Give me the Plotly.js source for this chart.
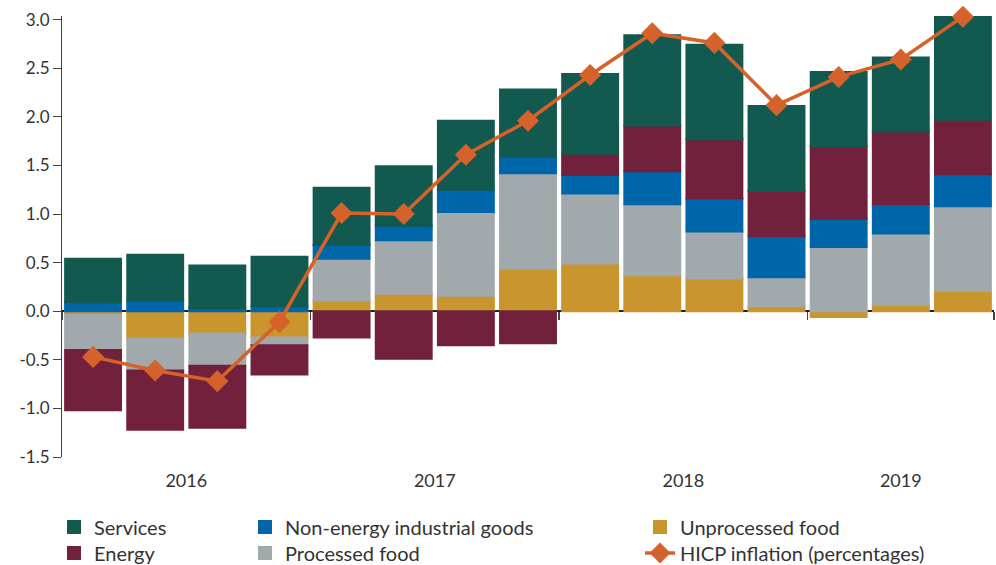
<!DOCTYPE html>
<html>
<head>
<meta charset="utf-8">
<script src="https://cdn.plot.ly/plotly-3.0.1.min.js"></script>
<style>html,body{margin:0;padding:0;background:#fff;}#chart{width:996px;height:565px;}</style>
</head>
<body>
<div id="chart"></div>
<script>
// 15 quarters: 2016 Q1 ... 2019 Q3
const periods = [0,1,2,3,4,5,6,7,8,9,10,11,12,13,14];
const yearLabels = ['2016','2017','2018','2019'];
const yearCentres = [1.5, 5.5, 9.5, 13];
const yearBounds = [-0.5, 3.5, 7.5, 11.5, 14.5];

const unprocessedFood = [-0.04,-0.28,-0.23,-0.27, 0.11,0.18,0.16,0.44, 0.49,0.37,0.34,0.05, -0.06,0.07,0.21];
const processedFood   = [-0.36,-0.33,-0.33,-0.08, 0.43,0.55,0.86,0.98, 0.72,0.73,0.48,0.30, 0.66,0.73,0.87];
const neig            = [ 0.09, 0.11, 0.03, 0.05, 0.14,0.15,0.23,0.17, 0.19,0.34,0.34,0.42, 0.29,0.30,0.33];
const energy          = [-0.62,-0.61,-0.64,-0.30, -0.27,-0.49,-0.35,-0.33, 0.22,0.47,0.61,0.47, 0.75,0.75,0.56];
const services        = [ 0.45, 0.47, 0.44, 0.51, 0.59,0.61,0.71,0.69, 0.82,0.93,0.97,0.87, 0.76,0.76,1.06];
const hicp            = [-0.47,-0.61,-0.72,-0.11, 1.01,1.00,1.61,1.96, 2.43,2.86,2.76,2.12, 2.41,2.59,3.03];

const yTicks = [-1.5,-1.0,-0.5,0,0.5,1.0,1.5,2.0,2.5,3.0];
const yTickText = ['-1.5','-1.0','-0.5','0.0','0.5','1.0','1.5','2.0','2.5','3.0'];

const FONT = 'Lato, "Open Sans", sans-serif';
const C = {services:'#12594f', neig:'#0066aa', unproc:'#c9952e', energy:'#72213d', proc:'#a2a9ac', hicp:'#d4622a'};

function bar(name, y, color, legend){
  return {type:'bar', x:periods, y:y, name:name, marker:{color:color, line:{width:2, color:color}},
          legend:legend, hoverinfo:'y+name'};
}
const traces = [
  bar('Unprocessed food', unprocessedFood, C.unproc, 'legend3'),
  bar('Processed food', processedFood, C.proc, 'legend5'),
  bar('Non-energy industrial goods', neig, C.neig, 'legend2'),
  bar('Energy', energy, C.energy, 'legend4'),
  bar('Services', services, C.services, 'legend'),
  {type:'scatter', mode:'lines+markers', x:periods, y:hicp, name:'HICP inflation (percentages)',
   line:{color:C.hicp, width:3.5}, marker:{symbol:'diamond', size:17, color:C.hicp},
   legend:'legend6', cliponaxis:false},
  {type:'scatter', x:[], y:[], xaxis:'x2', showlegend:false, hoverinfo:'skip'}
];

const yMin = -1.5, yMax = 3.037;
const legFont = {family:FONT, size:20, color:'#333'};
function leg(px, py){
  return {xref:'container', yref:'container', x:px/996, y:1 - py/565, xanchor:'left', yanchor:'middle',
          font:legFont, bgcolor:'rgba(0,0,0,0)', borderwidth:0};
}
const row1 = 527, row2 = 553;
const col1 = 54, col2 = 245, col3 = 640;

const layout = {
  width:996, height:565,
  margin:{l:62, r:2, t:16, b:108, autoexpand:false},
  paper_bgcolor:'#fff', plot_bgcolor:'#fff',
  barmode:'relative', bargap:0.1,
  font:{family:FONT, size:17, color:'#333'},
  xaxis:{range:[-0.5,14.5], tickvals:yearCentres, ticktext:yearLabels, ticks:'', showline:false,
         showgrid:false, zeroline:false, ticklabelstandoff:11, tickfont:{family:FONT,size:18,color:'#333'}},
  xaxis2:{overlaying:'x', anchor:'free', position:(0 - yMin)/(yMax - yMin), range:[-0.5,14.5],
          tickvals:yearBounds, ticks:'outside', ticklen:8, tickwidth:1.2, tickcolor:'#444',
          showticklabels:false, showline:false, showgrid:false, zeroline:false, side:'bottom'},
  yaxis:{range:[yMin,yMax], tickvals:yTicks, ticktext:yTickText, ticks:'outside', ticklen:8, tickwidth:1,
         tickcolor:'#444', showline:true, linecolor:'#444', linewidth:1, showgrid:false,
         zeroline:true, zerolinecolor:'#222', zerolinewidth:1.5, tickfont:{family:FONT,size:17,color:'#333'}},
  legend: leg(col1,row1),
  legend4: leg(col1,row2),
  legend2: leg(col2,row1),
  legend5: leg(col2,row2),
  legend3: leg(col3,row1),
  legend6: leg(col3,row2),
  showlegend:true
};

Plotly.newPlot('chart', traces, layout, {displayModeBar:false, staticPlot:true});
</script>
</body>
</html>
